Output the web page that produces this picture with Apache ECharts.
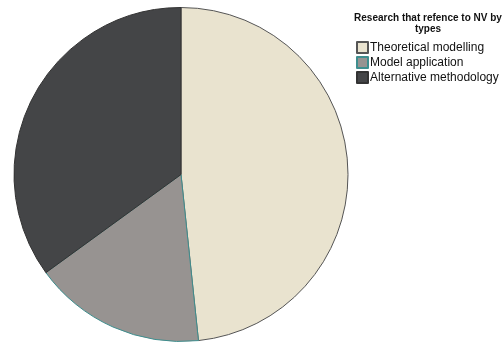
<!DOCTYPE html>
<html>
<head>
<meta charset="utf-8">
<script src="https://cdn.jsdelivr.net/npm/echarts@6/dist/echarts.min.js"></script>
<style>
  html, body { margin: 0; padding: 0; background: #fff; }
  #chart { width: 504px; height: 345px; }
</style>
</head>
<body>
<div id="chart"></div>
<script>
// Research items by type
const categories = ['Theoretical modelling', 'Model application', 'Alternative methodology'];
const counts = [29, 10, 21];
const fills = ['#E9E3CF', '#979391', '#444547'];
const borders = ['#555555', '#3E8E8E', '#333333'];

const chart = echarts.init(document.getElementById('chart'), null, { renderer: 'canvas' });

chart.setOption({
  animation: false,
  backgroundColor: '#ffffff',
  title: {
    text: 'Research that refence to NV by\ntypes',
    left: 428,
    top: 13,
    padding: 0,
    textAlign: 'center',
    textStyle: {
      fontFamily: 'Liberation Sans, Arial, sans-serif',
      fontSize: 10,
      fontWeight: 'bold',
      color: '#111',
      lineHeight: 11
    }
  },
  legend: {
    orient: 'vertical',
    left: 356,
    top: 41,
    padding: 0,
    itemWidth: 11,
    itemHeight: 11,
    itemGap: 2,
    icon: 'rect',
    data: categories,
    textStyle: {
      fontFamily: 'Liberation Sans, Arial, sans-serif',
      fontSize: 12,
      color: '#111',
      padding: [0, 0, 0, -3]
    }
  },
  series: [{
    type: 'pie',
    center: [181, 174.5],
    radius: 167,
    startAngle: 90,
    clockwise: true,
    label: { show: false },
    labelLine: { show: false },
    emphasis: { disabled: true },
    data: categories.map((name, i) => ({
      name: name,
      value: counts[i],
      itemStyle: { color: fills[i], borderColor: borders[i], borderWidth: 1 }
    }))
  }]
});
</script>
</body>
</html>
